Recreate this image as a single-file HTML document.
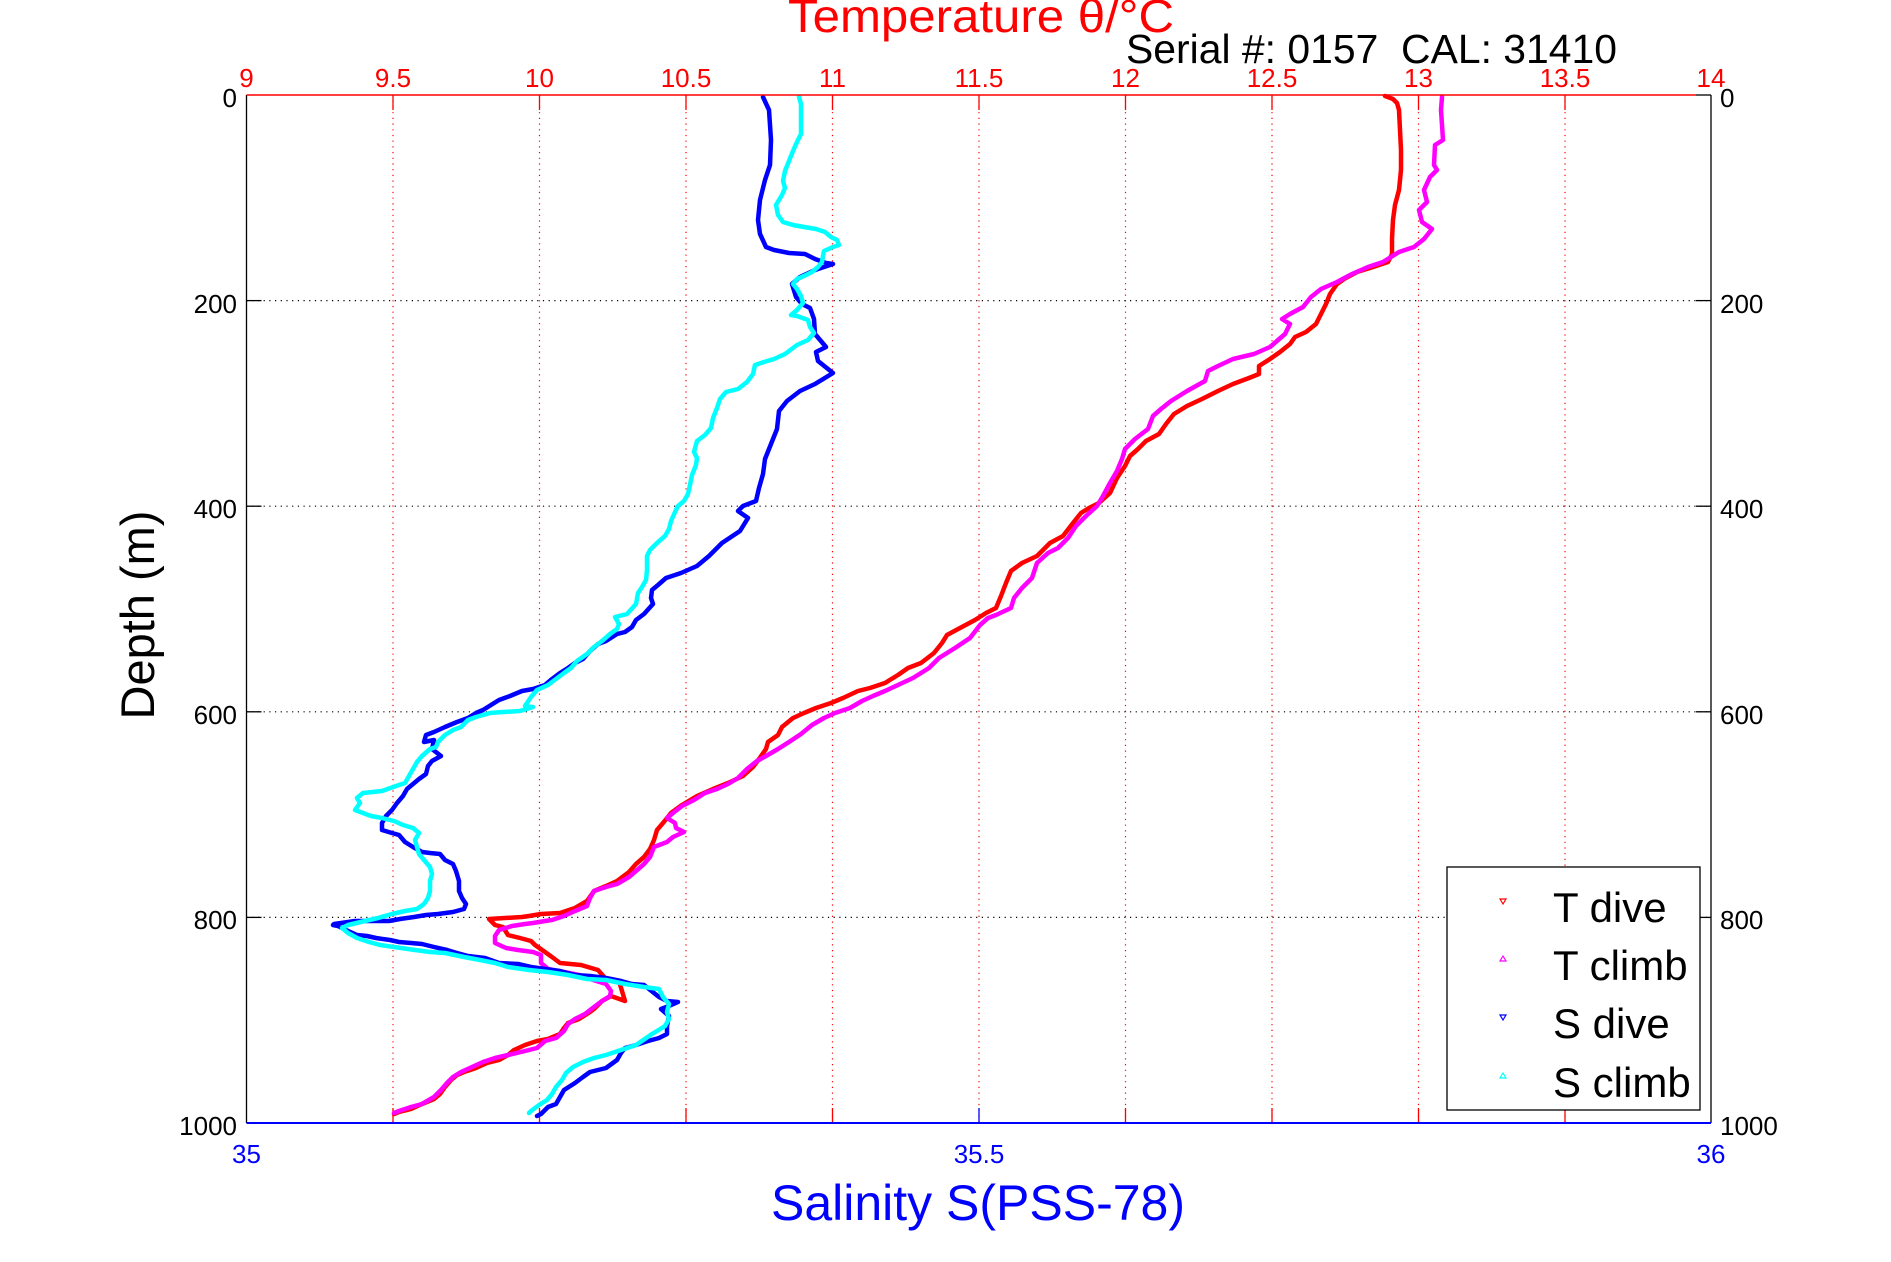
<!DOCTYPE html>
<html><head><meta charset="utf-8"><style>
html,body{margin:0;padding:0;background:#fff;}
svg{display:block;}
text{font-family:"Liberation Sans",Arial,sans-serif;}
</style></head><body>
<svg width="1891" height="1262" viewBox="0 0 1891 1262" xmlns="http://www.w3.org/2000/svg">
<rect x="0" y="0" width="1891" height="1262" fill="#fff"/>
<!-- grid -->
<g stroke="#ff0000" stroke-width="1.2" stroke-dasharray="1.2,4.5" fill="none">
<line x1="393" y1="95" x2="393" y2="1123"/><line x1="539.5" y1="95" x2="539.5" y2="1123"/>
<line x1="686" y1="95" x2="686" y2="1123"/><line x1="832.5" y1="95" x2="832.5" y2="1123"/>
<line x1="979" y1="95" x2="979" y2="1123"/><line x1="1125.5" y1="95" x2="1125.5" y2="1123"/>
<line x1="1272" y1="95" x2="1272" y2="1123"/><line x1="1418.5" y1="95" x2="1418.5" y2="1123"/>
<line x1="1565" y1="95" x2="1565" y2="1123"/>
</g>
<g stroke="#000" stroke-width="1.2" stroke-dasharray="1.2,4.5" fill="none">
<line x1="246.5" y1="300.6" x2="1711" y2="300.6"/><line x1="246.5" y1="506.2" x2="1711" y2="506.2"/>
<line x1="246.5" y1="711.8" x2="1711" y2="711.8"/><line x1="246.5" y1="917.4" x2="1711" y2="917.4"/>
</g>
<!-- ticks -->
<g stroke="#ff0000" stroke-width="1.3">
<line x1="393" y1="95" x2="393" y2="110"/><line x1="539.5" y1="95" x2="539.5" y2="110"/><line x1="686" y1="95" x2="686" y2="110"/><line x1="832.5" y1="95" x2="832.5" y2="110"/><line x1="979" y1="95" x2="979" y2="110"/><line x1="1125.5" y1="95" x2="1125.5" y2="110"/><line x1="1272" y1="95" x2="1272" y2="110"/><line x1="1418.5" y1="95" x2="1418.5" y2="110"/><line x1="1565" y1="95" x2="1565" y2="110"/>
<line x1="393" y1="1108" x2="393" y2="1123"/><line x1="539.5" y1="1108" x2="539.5" y2="1123"/><line x1="686" y1="1108" x2="686" y2="1123"/><line x1="832.5" y1="1108" x2="832.5" y2="1123"/><line x1="1125.5" y1="1108" x2="1125.5" y2="1123"/><line x1="1272" y1="1108" x2="1272" y2="1123"/><line x1="1418.5" y1="1108" x2="1418.5" y2="1123"/><line x1="1565" y1="1108" x2="1565" y2="1123"/>
</g>
<g stroke="#0000ff" stroke-width="1.3"><line x1="979" y1="1108" x2="979" y2="1123"/></g>
<g stroke="#000" stroke-width="1.3">
<line x1="246.5" y1="300.6" x2="261.5" y2="300.6"/><line x1="246.5" y1="506.2" x2="261.5" y2="506.2"/><line x1="246.5" y1="711.8" x2="261.5" y2="711.8"/><line x1="246.5" y1="917.4" x2="261.5" y2="917.4"/>
<line x1="1696" y1="95" x2="1711" y2="95"/><line x1="1696" y1="300.6" x2="1711" y2="300.6"/><line x1="1696" y1="506.2" x2="1711" y2="506.2"/><line x1="1696" y1="711.8" x2="1711" y2="711.8"/><line x1="1696" y1="917.4" x2="1711" y2="917.4"/><line x1="1696" y1="1123" x2="1711" y2="1123"/>
</g>
<!-- data -->
<g fill="none" stroke-width="4.5" stroke-linejoin="round" stroke-linecap="round">
<polyline stroke="#ff0000" points="1385,96 1393,99 1397,103 1399,110 1400,130 1401,150 1401,170 1399,190 1395,205 1393,220 1392,239 1392,254 1388,262 1373,267 1357,272 1344,279 1337,284 1330,294 1326,304 1321,314 1316,324 1306,332 1295,337 1290,344 1280,352 1270,359 1259,366 1259,374 1249,378 1233,384 1218,391 1202,399 1187,406 1174,414 1166,424 1159,434 1146,441 1138,449 1130,456 1125,466 1117,478 1110,493 1099,503 1089,508 1081,513 1073,523 1063,536 1050,543 1037,556 1022,563 1011,571 1006,583 1001,596 996,608 986,613 975,620 960,628 947,635 942,643 934,653 921,663 908,668 898,675 885,683 870,688 858,691 843,698 831,703 816,708 804,713 793,718 782,727 778,735 768,742 766,749 759,759 753,767 743,776 728,783 713,789 697,796 682,805 671,813 663,823 657,830 654,840 650,849 644,857 636,864 629,872 617,881 606,886 594,891 587,901 575,908 560,913 541,914 529,916 522,917 489,919 495,925 503,927 508,935 520,938 531,941 535,945 545,952 552,957 560,963 581,965 598,970 606,979 619,981 625,1001 611,996 602,1001 594,1009 590,1012 579,1019 568,1023 564,1028 560,1034 548,1039 537,1041 525,1045 514,1050 508,1055 499,1060 487,1063 476,1068 464,1072 457,1075 451,1080 445,1087 440,1094 434,1099 422,1104 411,1109 399,1112 394,1114"/>
<polyline stroke="#ff00ff" points="1442,97 1441,110 1443,140 1435,145 1434,165 1437,170 1430,177 1424,190 1427,202 1419,210 1422,222 1432,229 1424,239 1414,247 1399,252 1383,262 1368,267 1352,274 1337,282 1321,289 1311,297 1303,307 1290,314 1282,319 1290,324 1285,334 1270,347 1254,354 1233,359 1218,366 1208,371 1205,381 1187,391 1171,401 1161,409 1153,416 1148,429 1135,439 1125,449 1122,459 1117,471 1110,483 1103,496 1097,506 1086,516 1076,526 1068,538 1058,548 1048,553 1037,563 1032,578 1022,588 1014,598 1011,608 996,615 988,618 980,625 970,638 955,648 939,658 929,668 913,678 898,685 885,691 873,696 862,701 850,708 835,713 824,718 812,725 801,734 789,742 778,749 766,756 757,761 747,769 738,778 728,784 717,789 705,793 694,800 682,806 673,813 667,818 675,823 676,828 684,832 673,837 667,842 654,847 650,857 644,864 636,871 629,877 617,884 606,887 594,891 590,898 587,906 575,911 564,916 552,920 545,921 533,923 525,924 512,926 499,930 495,936 495,943 506,948 518,950 533,952 541,955 541,963 548,969 564,972 579,975 590,979 606,984 611,991 610,996 602,1001 594,1007 585,1014 575,1019 568,1024 564,1031 556,1038 545,1041 537,1048 525,1051 508,1055 495,1058 483,1062 472,1067 461,1072 453,1077 447,1083 441,1090 434,1097 422,1104 411,1107 399,1111 394,1113"/>
<polyline stroke="#0000ff" points="763,97 769,110 771,140 770,165 765,180 760,200 758,220 760,234 766,247 774,250 789,253 805,254 815,259 826,263 833,264 815,270 800,277 792,284 796,297 802,304 810,308 814,319 815,334 826,347 816,352 818,361 833,373 815,384 800,391 787,401 779,411 777,429 771,444 765,459 763,474 759,488 756,501 743,506 738,511 748,518 740,531 722,543 709,556 697,566 681,573 666,578 658,585 652,590 651,598 653,604 644,614 636,620 632,627 625,632 617,634 606,641 598,644 590,651 583,659 575,663 568,668 560,673 552,679 545,685 533,689 522,691 510,696 499,700 491,705 483,710 476,713 468,718 457,722 445,727 434,732 426,735 424,742 434,740 432,749 441,756 432,761 428,766 426,774 419,779 413,784 407,789 403,796 397,803 392,810 386,816 382,823 382,830 392,833 399,835 405,842 413,847 422,852 430,853 440,854 445,860 453,864 456,871 459,881 459,891 462,898 466,904 464,909 453,912 438,914 426,915 414,917 400,919 389,921 376,921 355,921 334,924 333,925 338,926 346,930 357,935 367,936 376,938 390,940 399,942 411,943 422,944 434,947 447,950 457,953 468,956 485,958 499,963 518,964 531,967 545,969 560,971 575,975 590,976 606,978 621,981 632,984 644,985 659,997 667,1001 678,1002 669,1006 661,1009 669,1016 667,1026 667,1034 659,1038 648,1041 636,1045 625,1048 621,1053 617,1060 606,1068 590,1072 583,1077 575,1083 564,1090 560,1097 556,1104 548,1107 541,1114 537,1116"/>
<polyline stroke="#00ffff" points="799,97 801,104 801,117 801,134 797,142 793,151 789,161 785,171 783,181 785,188 782,195 776,205 778,215 783,222 793,225 804,227 816,229 825,232 831,237 837,240 839,245 833,247 824,251 823,256 822,262 818,267 812,272 804,276 797,279 793,284 797,289 801,296 803,303 797,310 791,315 797,316 808,320 810,327 814,333 808,340 797,345 785,354 774,359 764,362 755,365 753,374 747,382 738,389 726,392 720,399 717,408 713,418 711,428 705,435 697,441 694,452 697,458 696,465 692,475 690,485 688,494 684,501 678,506 675,512 671,521 669,529 665,536 657,543 650,550 647,556 647,570 646,580 642,587 638,593 636,604 627,614 615,617 619,624 617,629 610,634 602,641 594,647 587,654 577,661 571,668 564,673 556,679 548,685 537,690 531,697 525,706 533,707 520,711 503,712 490,713 476,717 468,720 461,727 453,730 445,735 438,742 436,747 430,749 422,756 417,762 413,769 409,776 405,783 396,786 382,791 363,793 357,798 360,803 355,810 363,813 371,816 382,818 394,821 403,825 413,828 419,833 415,840 417,847 419,854 424,860 430,867 432,874 430,881 430,891 428,898 424,904 417,909 405,911 392,914 378,918 365,921 348,925 342,928 348,933 357,938 369,942 380,945 401,948 415,950 430,952 445,953 464,957 480,960 495,963 508,967 529,970 548,972 568,975 587,979 606,980 625,984 644,987 659,989 663,997 669,1004 667,1012 669,1019 665,1026 657,1031 652,1034 636,1045 621,1050 606,1055 594,1058 583,1062 573,1067 566,1073 562,1080 556,1087 552,1094 547,1100 539,1105 531,1111 529,1113"/>
</g>
<!-- axes lines -->
<line x1="246.5" y1="95" x2="246.5" y2="1123" stroke="#000" stroke-width="1.3"/>
<line x1="1711" y1="95" x2="1711" y2="1123" stroke="#000" stroke-width="1.3"/>
<line x1="246.5" y1="95" x2="1696" y2="95" stroke="#ff0000" stroke-width="1.5"/>
<line x1="246.5" y1="1123" x2="1711" y2="1123" stroke="#0000ff" stroke-width="2"/>
<!-- legend -->
<rect x="1447" y="867" width="253" height="243" fill="#fff" stroke="#000" stroke-width="1.3"/>
<polygon points="1500,899 1506,899 1503,904" fill="none" stroke="#ff0000" stroke-width="1.2"/>
<polygon points="1500,961 1506,961 1503,956" fill="none" stroke="#ff00ff" stroke-width="1.2"/>
<polygon points="1500,1015 1506,1015 1503,1020" fill="none" stroke="#0000ff" stroke-width="1.2"/>
<polygon points="1500,1078 1506,1078 1503,1073" fill="none" stroke="#00ffff" stroke-width="1.2"/>
<g font-size="42" fill="#000">
<text x="1553" y="922">T dive</text>
<text x="1553" y="980">T climb</text>
<text x="1553" y="1038">S dive</text>
<text x="1553" y="1097">S climb</text>
</g>
<!-- tick labels -->
<g font-size="26" fill="#ff0000" text-anchor="middle">
<text x="246.5" y="87">9</text><text x="393" y="87">9.5</text><text x="539.5" y="87">10</text><text x="686" y="87">10.5</text><text x="832.5" y="87">11</text><text x="979" y="87">11.5</text><text x="1125.5" y="87">12</text><text x="1272" y="87">12.5</text><text x="1418.5" y="87">13</text><text x="1565" y="87">13.5</text><text x="1711" y="87">14</text>
</g>
<g font-size="26" fill="#000" text-anchor="end">
<text x="237" y="107">0</text><text x="237" y="313">200</text><text x="237" y="518">400</text><text x="237" y="724">600</text><text x="237" y="929">800</text><text x="237" y="1135">1000</text>
</g>
<g font-size="26" fill="#000">
<text x="1720" y="107">0</text><text x="1720" y="313">200</text><text x="1720" y="518">400</text><text x="1720" y="724">600</text><text x="1720" y="929">800</text><text x="1720" y="1135">1000</text>
</g>
<g font-size="26" fill="#0000ff" text-anchor="middle">
<text x="246.5" y="1163">35</text><text x="979" y="1163">35.5</text><text x="1711" y="1163">36</text>
</g>
<!-- titles -->
<text x="788" y="32" font-size="46" fill="#ff0000" textLength="386" lengthAdjust="spacingAndGlyphs">Temperature θ/°C</text>
<text x="1126" y="63" font-size="41" fill="#000" style="white-space:pre" xml:space="preserve" textLength="491" lengthAdjust="spacingAndGlyphs">Serial #: 0157  CAL: 31410</text>
<text transform="translate(154,615) rotate(-90)" font-size="47" fill="#000" text-anchor="middle">Depth (m)</text>
<text x="978" y="1220" font-size="50" fill="#0000ff" text-anchor="middle">Salinity S(PSS-78)</text>
</svg>
</body></html>
